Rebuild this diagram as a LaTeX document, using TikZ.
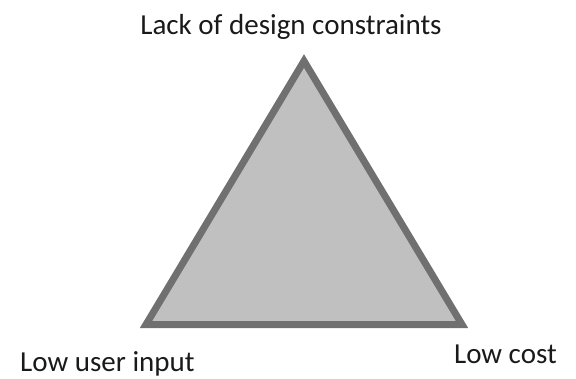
\documentclass[tikz,border=0pt]{standalone}
\usepackage{fontspec}
\setmainfont{Carlito}
\definecolor{edgegray}{HTML}{707070}
\definecolor{fillgray}{HTML}{C0C0C0}
\definecolor{txt}{HTML}{1A1A1A}
\begin{document}
\begin{tikzpicture}[x=1pt,y=-1pt,
  lbl/.style={font=\fontsize{29}{34}\selectfont, text=txt, inner sep=0pt, anchor=base},
  tri/.style={draw=edgegray, fill=fillgray, line width=7pt, line join=miter}]
\useasboundingbox (0,0) rectangle (576,378);
\coordinate (apex) at (304,61);
\coordinate (bl) at (146,324.5);
\coordinate (br) at (462,324.5);
\filldraw[tri] (apex) -- (bl) -- (br) -- cycle;
\node[lbl, anchor=base] (top) at (291,34) {Lack of design constraints};
\node[lbl, anchor=base west] (left) at (20,371) {Low user input};
\node[lbl, anchor=base east] (right) at (557,363) {Low cost};
\end{tikzpicture}
\end{document}
